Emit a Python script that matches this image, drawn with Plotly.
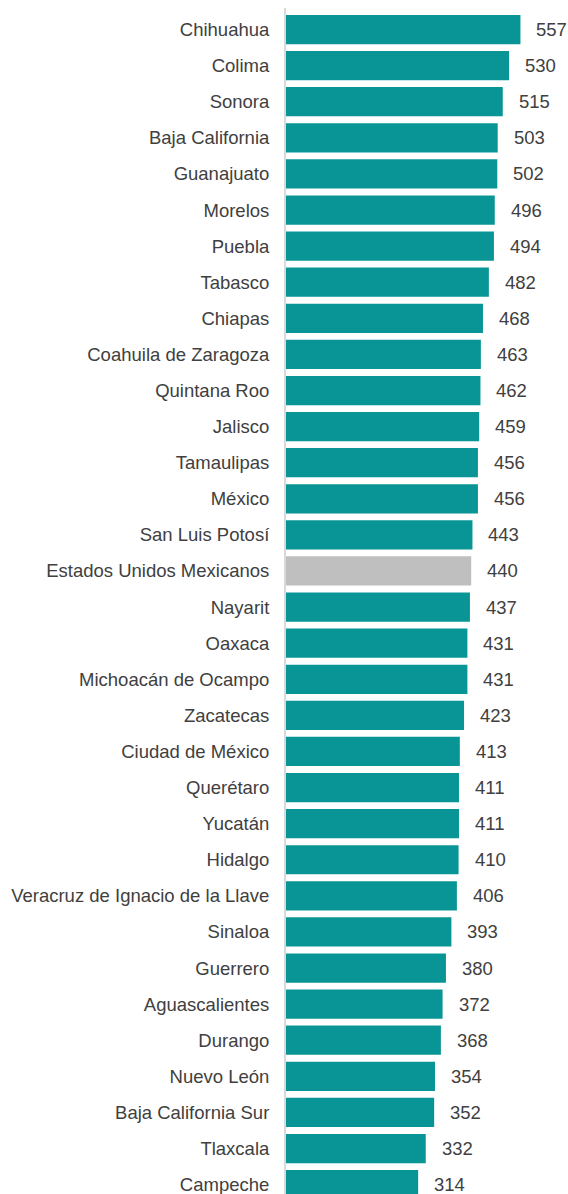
import plotly.graph_objects as go

states = ["Chihuahua", "Colima", "Sonora", "Baja California", "Guanajuato", "Morelos",
          "Puebla", "Tabasco", "Chiapas", "Coahuila de Zaragoza", "Quintana Roo", "Jalisco",
          "Tamaulipas", "México", "San Luis Potosí", "Estados Unidos Mexicanos", "Nayarit",
          "Oaxaca", "Michoacán de Ocampo", "Zacatecas", "Ciudad de México", "Querétaro",
          "Yucatán", "Hidalgo", "Veracruz de Ignacio de la Llave", "Sinaloa", "Guerrero",
          "Aguascalientes", "Durango", "Nuevo León", "Baja California Sur", "Tlaxcala",
          "Campeche"]
values = [557, 530, 515, 503, 502, 496, 494, 482, 468, 463, 462, 459, 456, 456, 443, 440,
          437, 431, 431, 423, 413, 411, 411, 410, 406, 393, 380, 372, 368, 354, 352, 332, 314]
national = "Estados Unidos Mexicanos"

TEAL = "#099595"
GRAY = "#bfbfbf"
TXT = "#404040"
FONT = "Liberation Sans, Arial, sans-serif"

colors = [GRAY if s == national else TEAL for s in states]

fig = go.Figure(go.Bar(
    x=values, y=states, orientation="h",
    marker=dict(color=colors, line=dict(width=0)),
    width=0.81,
    hoverinfo="x+y",
))

for s, v in zip(states, values):
    fig.add_annotation(x=v, y=s, text=str(v), showarrow=False, xanchor="left",
                       yanchor="middle", xshift=14,
                       font=dict(family=FONT, size=18.5, color=TXT))

fig.update_layout(
    width=568, height=1194,
    margin=dict(l=286, r=0, t=8, b=0, autoexpand=False),
    paper_bgcolor="white", plot_bgcolor="white",
    showlegend=False,
    font=dict(family=FONT, size=18.5, color=TXT),
    bargap=0.19,
)
fig.update_xaxes(range=[0, 670], visible=False, showgrid=False, zeroline=False,
                 automargin=False)
fig.update_yaxes(range=[32.26, -0.597], showgrid=False, zeroline=False,
                 showline=True, linecolor="#d9d9d9", linewidth=2,
                 ticks="", ticklabelstandoff=11, automargin=False,
                 tickfont=dict(family=FONT, size=18.5, color=TXT))

# remove the default page margin so the figure fills the window exactly
fig.write_html("out.html",
               config={"displayModeBar": False},
               post_script="document.body.style.margin='0';"
                           "document.body.style.overflow='hidden';")
